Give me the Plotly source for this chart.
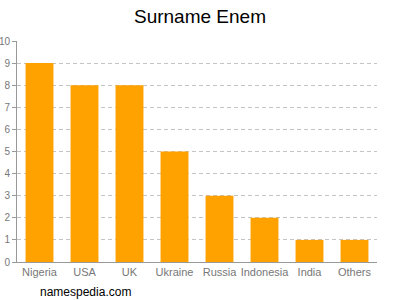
import plotly.graph_objects as go

countries = ["Nigeria", "USA", "UK", "Ukraine", "Russia", "Indonesia", "India", "Others"]
counts = [9, 8, 8, 5, 3, 2, 1, 1]
y_ticks = list(range(0, 11))

fig = go.Figure(go.Bar(x=countries, y=counts, marker_color="#FFA200",
                       marker_line_width=0, width=0.62))

fig.update_layout(
    width=400, height=300,
    margin=dict(l=17, r=23, t=41, b=38, autoexpand=False),
    paper_bgcolor="white", plot_bgcolor="white",
    title=dict(text="Surname Enem", x=0.5, xanchor="center", y=0.945, yanchor="middle",
               font=dict(family="Liberation Sans, Arial", size=19, color="#000")),
    font=dict(family="Liberation Sans, Arial", size=11, color="#777"),
    showlegend=False,
)
fig.update_xaxes(showline=True, linecolor="#999", linewidth=1, ticks="", showgrid=False,
                 tickangle=0, automargin=False, tickfont=dict(size=11, color="#777"))
fig.update_yaxes(range=[0, 10], tickvals=y_ticks, showline=True, linecolor="#999", linewidth=1,
                 ticks="outside", ticklen=4, tickcolor="#999", automargin=False,
                 showgrid=True, gridcolor="#c4c4c4", griddash="4px,3px", gridwidth=1,
                 zeroline=False, tickfont=dict(size=10, color="#777"))
fig.add_annotation(text="namespedia.com", xref="paper", yref="paper", x=0.058, y=-0.136,
                   xanchor="left", yanchor="middle", showarrow=False,
                   font=dict(family="Liberation Sans, Arial", size=12, color="#000"))

fig.write_html("out.html")
